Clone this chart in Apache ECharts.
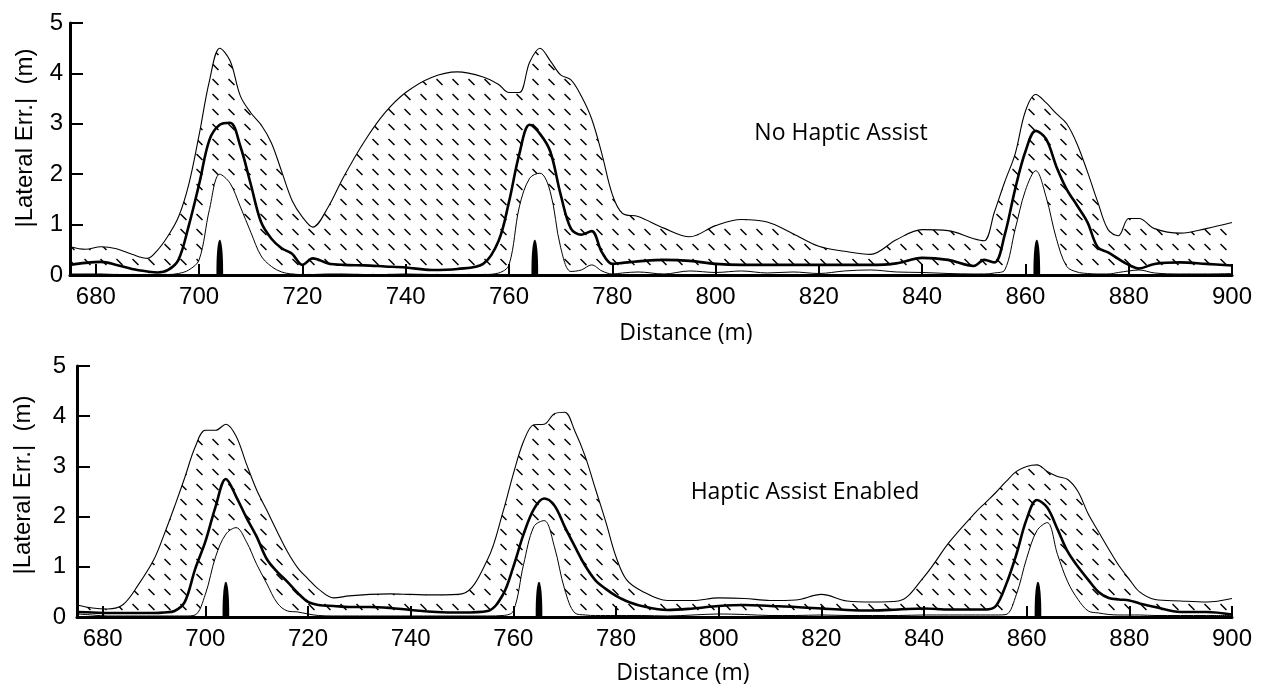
<!DOCTYPE html>
<html>
<head>
<meta charset="utf-8">
<title>Lateral error</title>
<script src="https://cdn.jsdelivr.net/npm/echarts@6/dist/echarts.min.js"></script>
<style>
html, body { margin: 0; padding: 0; background: #fff; }
#chart { width: 1268px; height: 687px; }
</style>
</head>
<body>
<div id="chart"></div>
<script>
// distance along the course (m), shared by both panels
var distance = [
	675, 678, 681, 684, 687, 690, 692, 694, 696, 698,
	700, 702, 704, 706, 708, 710, 712, 714, 716, 718,
	720, 722, 725, 728, 732, 736, 740, 745, 750, 755,
	758, 760, 762, 764, 766, 768, 770, 772, 774, 776,
	778, 780, 782, 785, 790, 795, 800, 805, 810, 815,
	820, 825, 830, 835, 840, 845, 850, 852, 854, 856,
	858, 860, 862, 864, 866, 868, 870, 872, 874, 876,
	878, 880, 882, 885, 890, 895, 900
]

// No Haptic Assist
var topUpper = [
	0.56, 0.51, 0.56, 0.52, 0.41, 0.33, 0.5, 0.78, 1.15, 1.8,
	2.78, 3.85, 4.5, 4.25, 3.55, 3.22, 2.98, 2.62, 2.05, 1.48,
	1.15, 0.95, 1.35, 1.95, 2.65, 3.22, 3.62, 3.92, 4.03, 3.93,
	3.78, 3.62, 3.62, 4.22, 4.5, 4.25, 3.97, 3.87, 3.55, 3.1,
	2.4, 1.6, 1.22, 1.16, 0.93, 0.76, 0.98, 1.1, 1.05, 0.82,
	0.57, 0.47, 0.41, 0.7, 0.9, 0.88, 0.72, 0.68, 1.25, 1.85,
	2.4, 3.25, 3.58, 3.42, 3.2, 3.0, 2.6, 2.05, 1.45, 0.9,
	0.78, 1.12, 1.12, 0.92, 0.83, 0.92, 1.04
]
var topMean = [
	0.2, 0.24, 0.26, 0.2, 0.12, 0.07, 0.05, 0.1, 0.3, 0.98,
	1.8, 2.68, 2.98, 3.02, 2.55, 1.8, 1.05, 0.72, 0.53, 0.42,
	0.2, 0.33, 0.23, 0.2, 0.19, 0.17, 0.15, 0.1, 0.12, 0.22,
	0.68, 1.45, 2.4, 2.98, 2.8, 2.45, 1.6, 0.92, 0.8, 0.87,
	0.45, 0.22, 0.24, 0.27, 0.3, 0.28, 0.22, 0.2, 0.2, 0.2,
	0.2, 0.2, 0.2, 0.23, 0.34, 0.3, 0.18, 0.3, 0.25, 0.8,
	1.7, 2.45, 2.86, 2.7, 2.15, 1.7, 1.38, 1.05, 0.55, 0.45,
	0.32, 0.2, 0.13, 0.22, 0.25, 0.22, 0.19
]
var topLower = [
	0.02, 0.02, 0.02, 0.01, 0.01, 0.01, 0.01, 0.01, 0.03, 0.1,
	0.3, 1.3, 2.0, 1.82, 1.35, 0.85, 0.38, 0.17, 0.06, 0.02,
	0.01, 0.01, 0.02, 0.02, 0.01, 0.01, 0.02, 0.01, 0.01, 0.01,
	0.04, 0.2, 1.35, 1.92, 2.02, 1.65, 0.55, 0.07, 0.1, 0.2,
	0.08, 0.02, 0.04, 0.06, 0.02, 0.08, 0.05, 0.08, 0.04, 0.06,
	0.03, 0.08, 0.1, 0.06, 0.05, 0.03, 0.02, 0.02, 0.04, 0.1,
	0.9, 1.68, 2.07, 1.55, 0.72, 0.17, 0.06, 0.03, 0.02, 0.02,
	0.05, 0.08, 0.1, 0.04, 0.02, 0.02, 0.03
]

// Haptic Assist Enabled
var bottomUpper = [
	0.24, 0.18, 0.16, 0.25, 0.65, 1.15, 1.65, 2.2, 2.78, 3.38,
	3.72, 3.72, 3.84, 3.6, 3.05, 2.53, 2.12, 1.7, 1.3, 0.98,
	0.76, 0.56, 0.38, 0.42, 0.45, 0.46, 0.45, 0.44, 0.46, 1.15,
	2.1, 2.85, 3.5, 3.83, 3.84, 4.05, 4.08, 3.7, 3.2, 2.55,
	1.9, 1.2, 0.75, 0.52, 0.33, 0.33, 0.38, 0.37, 0.33, 0.34,
	0.45, 0.32, 0.3, 0.32, 0.8, 1.5, 2.08, 2.28, 2.48, 2.7,
	2.9, 3.0, 3.03, 2.9, 2.8, 2.74, 2.5, 2.05, 1.7, 1.35,
	1.02, 0.75, 0.5, 0.35, 0.32, 0.3, 0.37
]
var bottomMean = [
	0.1, 0.09, 0.08, 0.08, 0.08, 0.08, 0.09, 0.12, 0.3, 0.95,
	1.5, 2.2, 2.75, 2.4, 1.98, 1.6, 1.15, 0.9, 0.7, 0.48,
	0.3, 0.24, 0.22, 0.2, 0.2, 0.18, 0.14, 0.1, 0.09, 0.12,
	0.45, 1.0, 1.65, 2.15, 2.36, 2.22, 1.8, 1.4, 1.02, 0.73,
	0.56, 0.42, 0.32, 0.22, 0.14, 0.17, 0.22, 0.24, 0.22, 0.2,
	0.17, 0.14, 0.13, 0.15, 0.17, 0.15, 0.15, 0.15, 0.22, 0.65,
	1.25, 1.95, 2.33, 2.18, 1.75, 1.3, 1.0, 0.74, 0.5, 0.38,
	0.35, 0.33, 0.27, 0.2, 0.1, 0.1, 0.05
]
var bottomLower = [
	0.06, 0.04, 0.02, 0.02, 0.02, 0.02, 0.02, 0.02, 0.02, 0.04,
	0.45, 1.2, 1.65, 1.78, 1.5, 1.05, 0.66, 0.28, 0.12, 0.1,
	0.06, 0.03, 0.02, 0.02, 0.02, 0.02, 0.02, 0.02, 0.02, 0.02,
	0.03, 0.12, 1.05, 1.8, 1.92, 1.4, 0.55, 0.08, 0.04, 0.03,
	0.03, 0.03, 0.03, 0.03, 0.02, 0.04, 0.06, 0.05, 0.03, 0.03,
	0.04, 0.03, 0.03, 0.03, 0.04, 0.04, 0.04, 0.04, 0.04, 0.05,
	0.45, 1.17, 1.72, 1.88, 1.25, 0.7, 0.35, 0.12, 0.08, 0.05,
	0.04, 0.04, 0.04, 0.03, 0.03, 0.03, 0.03
]

// black markers on the baseline
var spikeDistance = [704, 765, 862.2]
var spikeHeight = [0.7, 0.7, 0.7]

var xTicks = [680, 700, 720, 740, 760, 780, 800, 820, 840, 860, 880, 900]

function pairs(xs, ys) {
	return xs.map(function (x, i) { return [x, ys[i]] })
}
// value first, distance second: with two value axes echarts stacks the first numeric dimension
function stackPairs(xs, ys) {
	return xs.map(function (x, i) { return [ys[i], x] })
}
function diff(a, b) {
	return a.map(function (v, i) { return +(v - b[i]).toFixed(3) })
}

function hatchCanvas() {
	var c = document.createElement('canvas')
	c.width = 16
	c.height = 15
	var ctx = c.getContext('2d')
	ctx.strokeStyle = '#000'
	ctx.lineWidth = 1.5
	ctx.beginPath()
	ctx.moveTo(4.5, 4)
	ctx.lineTo(10.5, 10)
	ctx.stroke()
	return c
}
var hatch = hatchCanvas()

function renderSpike(params, api) {
	var base = api.coord([api.value(0), 0])
	var top = api.coord([api.value(0), api.value(1)])
	var halfW = api.size([1.3, 0])[0] / 2
	var pts = []
	for (var k = 0; k <= 20; k++) {
		var t = Math.PI * k / 20
		pts.push([base[0] + halfW * Math.cos(t), base[1] - (base[1] - top[1]) * Math.pow(Math.sin(t), 0.8)])
	}
	return { type: 'polygon', shape: { points: pts }, style: { fill: '#000' } }
}

function panelSeries(idx, upper, mean, lower) {
	return [
		{
			type: 'line', xAxisIndex: idx, yAxisIndex: idx,
			stack: 'band' + idx, data: stackPairs(distance, lower),
			dimensions: ['err', 'dist'], encode: { x: 'dist', y: 'err' },
			smooth: 0.35, symbol: 'none',
			lineStyle: { color: '#000', width: 1 }
		},
		{
			type: 'line', xAxisIndex: idx, yAxisIndex: idx,
			stack: 'band' + idx, data: stackPairs(distance, diff(upper, lower)),
			dimensions: ['err', 'dist'], encode: { x: 'dist', y: 'err' },
			smooth: 0.35, symbol: 'none',
			lineStyle: { color: '#000', width: 1.1 },
			areaStyle: { color: { image: hatch, repeat: 'repeat' }, opacity: 1 }
		},
		{
			type: 'line', xAxisIndex: idx, yAxisIndex: idx,
			data: pairs(distance, mean),
			smooth: 0.35, symbol: 'none', z: 4,
			lineStyle: { color: '#000', width: 2.6 }
		},
		{
			type: 'custom', xAxisIndex: idx, yAxisIndex: idx,
			data: pairs(spikeDistance, spikeHeight),
			renderItem: renderSpike, z: 5
		}
	]
}

function xAxis(idx) {
	return {
		type: 'value', gridIndex: idx, min: 675, max: 900,
		axisLine: { lineStyle: { color: '#000', width: 3 } },
		axisTick: { inside: true, length: 11, customValues: xTicks, lineStyle: { color: '#000', width: 2 } },
		axisLabel: { customValues: xTicks, color: '#000', fontSize: 24, fontFamily: 'Liberation Sans', margin: 10 },
		splitLine: { show: false }
	}
}
function yAxis(idx, margin) {
	return {
		type: 'value', gridIndex: idx, min: 0, max: 5, interval: 1,
		axisLine: { show: true, lineStyle: { color: '#000', width: 3 } },
		axisTick: { show: true, inside: true, length: 13, lineStyle: { color: '#000', width: 2 } },
		axisLabel: { color: '#000', fontSize: 24, fontFamily: 'Liberation Sans', margin: margin },
		splitLine: { show: false }
	}
}

function label(text, x, y, size, family, rotate) {
	return {
		type: 'text', x: x, y: y, rotation: rotate || 0,
		style: {
			text: text, fill: '#000', align: 'center', verticalAlign: 'middle',
			font: size + 'px "' + family + '"'
		}
	}
}

var chart = echarts.init(document.getElementById('chart'))
chart.setOption({
	animation: false,
	backgroundColor: '#fff',
	grid: [
		{ left: 70, right: 36, top: 23, height: 252 },
		{ left: 77, right: 36, top: 366, height: 251 }
	],
	xAxis: [xAxis(0), xAxis(1)],
	yAxis: [yAxis(0, 7), yAxis(1, 11)],
	series: panelSeries(0, topUpper, topMean, topLower)
		.concat(panelSeries(1, bottomUpper, bottomMean, bottomLower)),
	graphic: [
		label('|Lateral Err.|  (m)', 25, 138, 24, 'Liberation Sans', Math.PI / 2),
		label('|Lateral Err.|  (m)', 23, 485, 24, 'Liberation Sans', Math.PI / 2),
		label('No Haptic Assist', 841, 133, 23, 'Open Sans'),
		label('Haptic Assist Enabled', 805, 492, 23, 'Open Sans'),
		label('Distance (m)', 686, 333, 23, 'Open Sans'),
		label('Distance (m)', 683, 673, 23, 'Open Sans')
	]
})
</script>
</body>
</html>
